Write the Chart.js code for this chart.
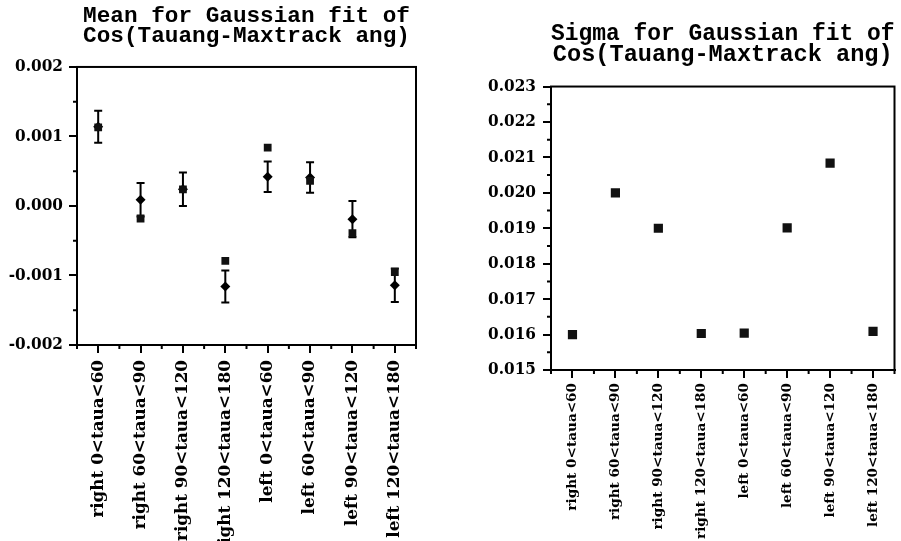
<!DOCTYPE html>
<html>
<head>
<meta charset="utf-8">
<script src="https://cdn.jsdelivr.net/npm/chart.js@4.4.1/dist/chart.umd.min.js"></script>
<style>
  body { margin: 0; background: #fff; }
  #wrap { position: relative; width: 901px; height: 541px; }
  canvas { position: absolute; top: 0; }
</style>
</head>
<body>
<div id="wrap">
  <canvas id="meanChart" width="450" height="541" style="left:0"></canvas>
  <canvas id="sigmaChart" width="451" height="541" style="left:450px"></canvas>
</div>
<script>
const categories = [
  'right 0<taua<60', 'right 60<taua<90', 'right 90<taua<120', 'right 120<taua<180',
  'left 0<taua<60', 'left 60<taua<90', 'left 90<taua<120', 'left 120<taua<180'
];
// gaussian fit mean (diamonds, with errors) and plain mean (squares)
const meanFit = [0.00114, 0.00009, 0.00024, -0.00116, 0.00042, 0.00041, -0.00019, -0.00114];
const meanErr = [0.00023, 0.00024, 0.00024, 0.00023, 0.00022, 0.00022, 0.00026, 0.00024];
const meanRaw = [0.00113, -0.00018, 0.00024, -0.00079, 0.00084, 0.00036, -0.00039, -0.00095];
const sigmaVals = [0.01600, 0.02000, 0.01900, 0.01603, 0.01604, 0.01901, 0.02084, 0.01609];

const meanTicks = [-0.002, -0.001, 0, 0.001, 0.002];
const sigmaTicks = [0.015, 0.016, 0.017, 0.018, 0.019, 0.020, 0.021, 0.022, 0.023];

const titleFont = { family: 'Liberation Mono', weight: 'bold', lineHeight: 0.88 };
const tickFont = { family: 'DejaVu Serif', weight: 'bold' };
const yTickFont = { family: '"DejaVu Serif Condensed", "DejaVu Serif"', weight: 'bold', size: 17 };

// error bars for datasets that carry an "errors" array
const errorBars = {
  id: 'errorBars',
  beforeDatasetsDraw(chart) {
    const ctx = chart.ctx, xs = chart.scales.x, ys = chart.scales.y;
    chart.data.datasets.forEach(ds => {
      if (!ds.errors) return;
      ctx.save();
      ctx.strokeStyle = '#000';
      ctx.lineWidth = 2;
      ds.data.forEach((v, i) => {
        const x = xs.getPixelForValue(i);
        const yt = ys.getPixelForValue(v + ds.errors[i]);
        const yb = ys.getPixelForValue(v - ds.errors[i]);
        ctx.beginPath();
        ctx.moveTo(x, yt); ctx.lineTo(x, yb);
        ctx.moveTo(x - 4, yt); ctx.lineTo(x + 4, yt);
        ctx.moveTo(x - 4, yb); ctx.lineTo(x + 4, yb);
        ctx.stroke();
      });
      ctx.restore();
    });
  }
};

// box round the plot plus the small in-between ticks
const frame = {
  id: 'frame',
  afterDraw(chart) {
    const ctx = chart.ctx, a = chart.chartArea, xs = chart.scales.x, ys = chart.scales.y;
    ctx.save();
    ctx.strokeStyle = '#000';
    ctx.lineWidth = 2;
    ctx.strokeRect(a.left, a.top, a.right - a.left, a.bottom - a.top);
    ctx.beginPath();
    const t = ys.ticks;
    for (let i = 0; i < t.length - 1; i++) {
      const y = ys.getPixelForValue((t[i].value + t[i + 1].value) / 2);
      ctx.moveTo(a.left - 4, y); ctx.lineTo(a.left, y);
    }
    for (let i = 0; i <= categories.length; i++) {
      const x = xs.getPixelForValue(i - 0.5);
      ctx.moveTo(x, a.bottom); ctx.lineTo(x, a.bottom + 4);
    }
    ctx.stroke();
    ctx.restore();
  }
};

function axes(tickList, yMin, yMax, yWidth, xHeight, xFontSize, yPad, xPad) {
  return {
    x: {
      type: 'category',
      offset: true,
      grid: { drawOnChartArea: false, tickLength: 8, color: '#000', lineWidth: 2 },
      border: { color: '#000', width: 2 },
      ticks: {
        autoSkip: false, minRotation: 90, maxRotation: 90, padding: xPad,
        color: '#000', font: Object.assign({ size: xFontSize }, tickFont)
      },
      afterFit(s) { s.height = xHeight; }
    },
    y: {
      min: yMin, max: yMax,
      grid: { drawOnChartArea: false, tickLength: 8, color: '#000', lineWidth: 2 },
      border: { color: '#000', width: 2 },
      afterBuildTicks(s) { s.ticks = tickList.map(v => ({ value: v })); },
      ticks: {
        padding: yPad, color: '#000',
        font: yTickFont,
        callback: v => v.toFixed(3)
      },
      afterFit(s) { s.width = yWidth; }
    }
  };
}

new Chart(document.getElementById('meanChart'), {
  type: 'line',
  data: {
    labels: categories,
    datasets: [
      {
        label: 'mean', data: meanRaw, showLine: false,
        pointStyle: 'rect', pointRadius: 5.5, backgroundColor: '#111', borderColor: '#000', borderWidth: 0
      },
      {
        label: 'fit mean', data: meanFit, errors: meanErr, showLine: false,
        pointStyle: 'rectRot', pointRadius: 5, backgroundColor: '#000', borderColor: '#000', borderWidth: 0
      }
    ]
  },
  options: {
    responsive: false,
    animation: false,
    layout: { padding: { left: 0, right: 34, top: 0, bottom: 0 } },
    plugins: {
      legend: { display: false },
      tooltip: { enabled: false },
      title: {
        display: true, fullSize: false, color: '#000',
        text: ['Mean for Gaussian fit of', 'Cos(Tauang-Maxtrack ang)'],
        font: Object.assign({ size: 22.7 }, titleFont),
        padding: { top: 6, bottom: 21 }
      }
    },
    scales: axes(meanTicks, -0.002, 0.002, 77, 196, 16.8, 6, 7)
  },
  plugins: [errorBars, frame]
});

new Chart(document.getElementById('sigmaChart'), {
  type: 'line',
  data: {
    labels: categories,
    datasets: [
      {
        label: 'sigma', data: sigmaVals, showLine: false,
        pointStyle: 'rect', pointRadius: 6.5, backgroundColor: '#111', borderColor: '#000', borderWidth: 0
      }
    ]
  },
  options: {
    responsive: false,
    animation: false,
    layout: { padding: { left: 0, right: 4, top: 0, bottom: 0 } },
    plugins: {
      legend: { display: false },
      tooltip: { enabled: false },
      title: {
        display: true, fullSize: false, color: '#000',
        text: ['Sigma for Gaussian fit of', 'Cos(Tauang-Maxtrack ang)'],
        font: Object.assign({ size: 23.6 }, titleFont),
        padding: { top: 24, bottom: 21 }
      }
    },
    scales: axes(sigmaTicks, 0.015, 0.023, 101, 171, 13.6, 7, 5)
  },
  plugins: [frame]
});
</script>
</body>
</html>
